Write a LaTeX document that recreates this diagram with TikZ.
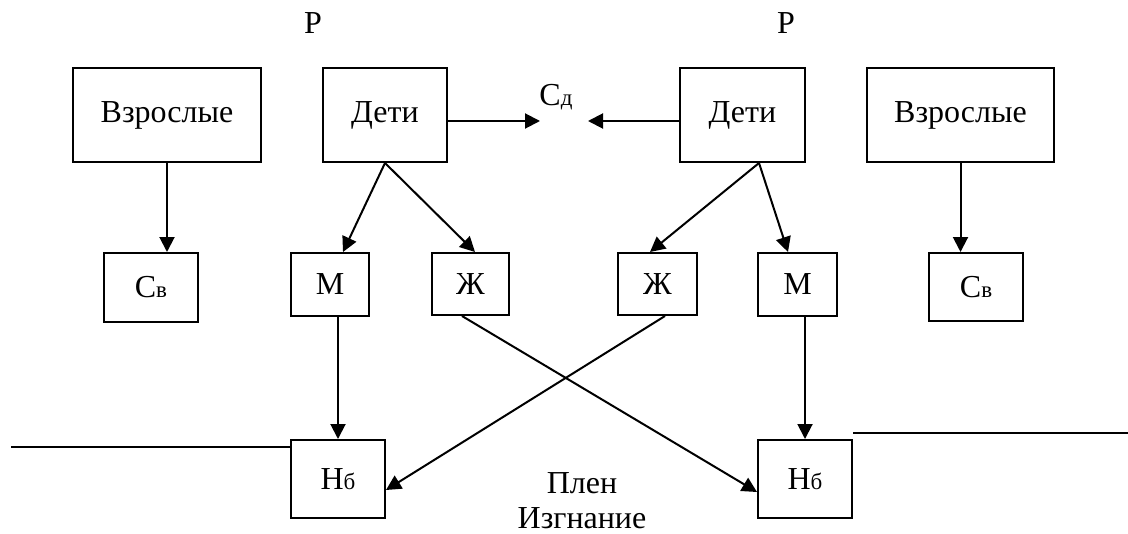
\documentclass[tikz,border=0pt]{standalone}
\usepackage{fontspec}
\setmainfont{Liberation Serif}
\usetikzlibrary{arrows.meta}
\usetikzlibrary{positioning}

\newcommand{\smlet}[1]{{\fontsize{11.5}{12}\selectfont #1}}

\begin{document}
\begin{tikzpicture}[x=0.5pt,y=-0.5pt,
        box/.style={draw,line width=1pt,inner sep=0pt,font=\fontsize{16}{19}\selectfont},
        lbl/.style={inner sep=0pt,font=\fontsize{16}{19}\selectfont},
        arr/.style={line width=1pt,-{Triangle[length=7.5pt,width=7.5pt]}},
        ln/.style={line width=1pt}]
    \useasboundingbox (0,0) rectangle (1128,534);

    % upper row
    \node[box,minimum width=94pt,minimum height=47pt] (vzrL) at (167,115) {Взрослые};
    \node[box,minimum width=62pt,minimum height=47pt] (detL) at (385,115) {Дети};
    \node[box,minimum width=62.5pt,minimum height=47pt] (detR) at (742.5,115) {Дети};
    \node[box,minimum width=93.5pt,minimum height=47pt] (vzrR) at (960.5,115) {Взрослые};

    % middle row
    \node[box,minimum width=47pt,minimum height=34.5pt] (svL) at (151,287.5) {С\smlet{в}};
    \node[box,minimum width=39pt,minimum height=31.5pt] (mL) at (330,284.5) {М};
    \node[box,minimum width=38.5pt,minimum height=31pt] (zhL) at (470.5,284) {Ж};
    \node[box,minimum width=39.5pt,minimum height=31pt] (zhR) at (657.5,284) {Ж};
    \node[box,minimum width=39.5pt,minimum height=31.5pt] (mR) at (797.5,284.5) {М};
    \node[box,minimum width=47pt,minimum height=34pt] (svR) at (976,287) {С\smlet{в}};

    % lower row
    \node[box,minimum width=47pt,minimum height=39pt] (nbL) at (338,479) {Н\smlet{б}};
    \node[box,minimum width=47pt,minimum height=39pt] (nbR) at (805,479) {Н\smlet{б}};

    % free labels
    \node[lbl] (pL) at (313,23) {Р};
    \node[lbl] (pR) at (786,23) {Р};
    \node[lbl] (sd) at (556,97) {С\smlet{д}};
    \node[lbl] (plen) at (582,483) {Плен};
    \node[lbl] (izg) at (582,518) {Изгнание};

    \coordinate (sdL) at (540,121);
    \coordinate (sdR) at (588,121);
    \coordinate (lineL) at (11,447);
    \coordinate (lineR) at (1128,433);

    \draw[arr] (vzrL.south) -- (vzrL.south |- svL.north);
    \draw[arr] (vzrR.south) -- (vzrR.south |- svR.north);
    \draw[arr] ([yshift=-3pt]detL.east) -- (sdL);
    \draw[arr] ([yshift=-3pt]detR.west) -- (sdR);
    \draw[arr] (detL.south) -- ([xshift=6.5pt]mL.north);
    \draw[arr] (detL.south) -- ([xshift=2.25pt]zhL.north);
    \draw[arr] ([xshift=8.25pt]detR.south) -- ([xshift=-3.75pt]zhR.north);
    \draw[arr] ([xshift=8.25pt]detR.south) -- ([xshift=-4.75pt]mR.north);
    \draw[arr] (nbL.north |- mL.south) -- (nbL.north);
    \draw[arr] (nbR.north |- mR.south) -- (nbR.north);
    \draw[arr] ([xshift=-4.25pt]zhL.south) -- ([yshift=-6.5pt]nbR.west);
    \draw[arr] ([xshift=3.75pt]zhR.south) -- ([yshift=-5.5pt]nbL.east);

    \draw[ln] (lineL) -- (lineL -| nbL.west);
    \draw[ln] (nbR.east |- lineR) -- (lineR);
\end{tikzpicture}
\end{document}
